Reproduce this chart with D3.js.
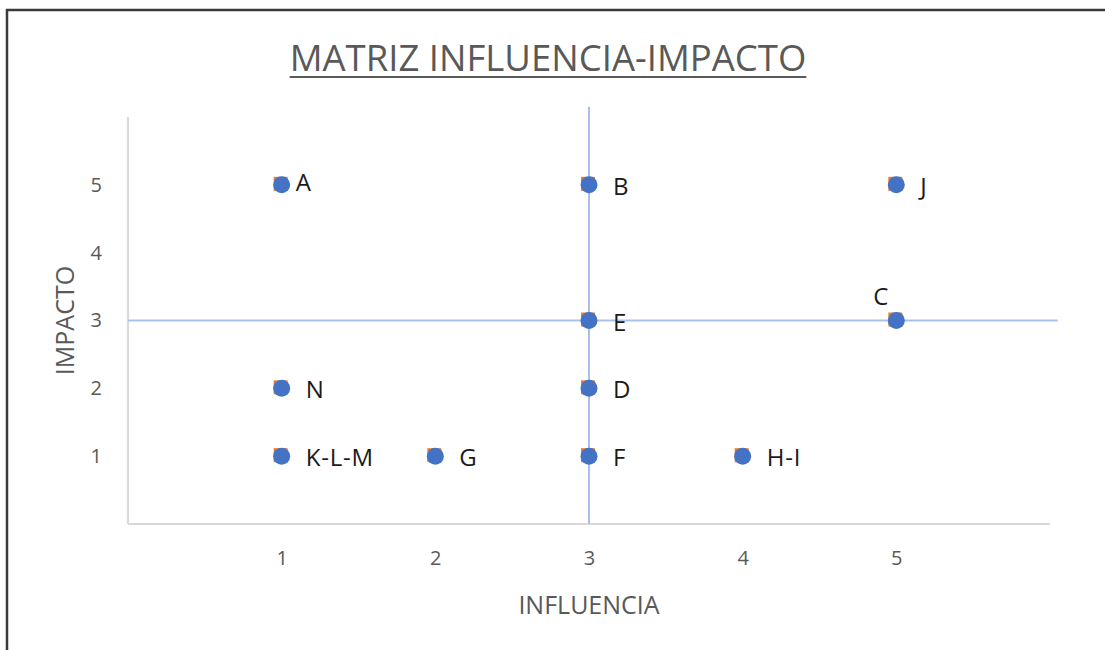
<!DOCTYPE html>
<html>
<head>
<meta charset="utf-8">
<script src="https://cdn.jsdelivr.net/npm/d3@7/dist/d3.min.js"></script>
<style>
  html, body { margin: 0; padding: 0; background: #fff; }
  svg { display: block; font-family: "Open Sans", "Noto Sans", sans-serif; }
</style>
</head>
<body>
<svg id="chart" width="1105" height="650"></svg>
<script>
// ---- data ----
const labels    = ["A", "B", "J", "C", "E", "N", "D", "K-L-M", "G", "F", "H-I"];
const influence = [1, 3, 5, 5, 3, 1, 3, 1, 2, 3, 4];
const impact    = [5, 5, 5, 3, 3, 2, 2, 1, 1, 1, 1];
const xTicks = [1, 2, 3, 4, 5];
const yTicks = [1, 2, 3, 4, 5];
const vLineX = [3, 3];
const vLineY = [0, 6.15];
const hLineX = [0, 6.05];
const hLineY = [3, 3];
const title = "MATRIZ INFLUENCIA-IMPACTO";
const xTitle = "INFLUENCIA";
const yTitle = "IMPACTO";

// label placement (style)
const placement = { "A": "upright", "C": "above" };

const svg = d3.select("#chart");
const W = 1105, H = 650;

// outer frame
svg.append("path")
  .attr("d", `M7,${H + 5} L7,10 L${W + 5},10`)
  .attr("fill", "none").attr("stroke", "#3a3a3a").attr("stroke-width", 2.5);

const x = d3.scaleLinear().domain([0, 6]).range([128, 1050]);
const y = d3.scaleLinear().domain([0, 6]).range([524, 117]);

// title
const t = svg.append("text")
  .attr("x", 548).attr("y", 71)
  .attr("text-anchor", "middle")
  .attr("font-size", 36.5)
  .attr("fill", "#595959")
  .text(title);
const tb = t.node().getBBox();
svg.append("line")
  .attr("x1", tb.x).attr("x2", tb.x + tb.width)
  .attr("y1", 77).attr("y2", 77)
  .attr("stroke", "#595959").attr("stroke-width", 2.2);

// axes (lines only, no ticks)
const xAxis = d3.axisBottom(x).tickValues(xTicks).tickSize(0).tickPadding(27).tickFormat(d3.format("d"));
const yAxis = d3.axisLeft(y).tickValues(yTicks).tickSize(0).tickPadding(26).tickFormat(d3.format("d"));

const gx = svg.append("g").attr("transform", `translate(0,${y(0)})`).call(xAxis);
const gy = svg.append("g").attr("transform", `translate(${x(0)},0)`).call(yAxis);
[gx, gy].forEach(g => {
  g.select(".domain").attr("stroke", "#d9d9d9").attr("stroke-width", 2.2);
  g.selectAll(".tick text").attr("font-size", 20).attr("fill", "#595959")
    .attr("font-family", "'Open Sans', 'Noto Sans', sans-serif");
});
gx.select(".domain").attr("d", `M${x(0)},0H${x(6)}`);
gy.select(".domain").attr("d", `M0,${y(0)}V${y(6)}`);

// axis titles
svg.append("text")
  .attr("x", 589).attr("y", 614)
  .attr("text-anchor", "middle").attr("font-size", 25).attr("fill", "#595959")
  .text(xTitle);
svg.append("text")
  .attr("transform", `translate(74,${y(3)}) rotate(-90)`)
  .attr("text-anchor", "middle").attr("font-size", 25).attr("fill", "#595959")
  .text(yTitle);

// crosshair lines
const line = d3.line().x(d => x(d[0])).y(d => y(d[1]));
svg.append("path")
  .attr("d", line(d3.zip(vLineX, vLineY)))
  .attr("stroke", "#a9c1ea").attr("stroke-width", 2).attr("fill", "none");
svg.append("path")
  .attr("d", line(d3.zip(hLineX, hLineY)))
  .attr("stroke", "#a9c1ea").attr("stroke-width", 2).attr("fill", "none");

const pts = labels.map((l, i) => ({ label: l, x: influence[i], y: impact[i] }));

// orange square markers (behind)
svg.append("g").selectAll("rect").data(pts).join("rect")
  .attr("x", d => x(d.x) - 8).attr("y", d => y(d.y) - 8)
  .attr("width", 14).attr("height", 14)
  .attr("fill", "#ed7d31");

// blue circle markers
svg.append("g").selectAll("circle").data(pts).join("circle")
  .attr("cx", d => x(d.x)).attr("cy", d => y(d.y)).attr("r", 8.5)
  .attr("fill", "#4472c4");

// labels
svg.append("g").selectAll("text").data(pts).join("text")
  .attr("x", d => {
    const p = placement[d.label];
    if (p === "above") return x(d.x) - 15;
    if (p === "upright") return x(d.x) + 14;
    return x(d.x) + 24;
  })
  .attr("y", d => {
    const p = placement[d.label];
    if (p === "above") return y(d.y) - 16;
    if (p === "upright") return y(d.y) + 6;
    return y(d.y) + 10;
  })
  .attr("text-anchor", d => placement[d.label] === "above" ? "middle" : "start")
  .attr("font-size", 24).attr("letter-spacing", 0.8).attr("fill", "#1a1a1a")
  .text(d => d.label);
</script>
</body>
</html>
